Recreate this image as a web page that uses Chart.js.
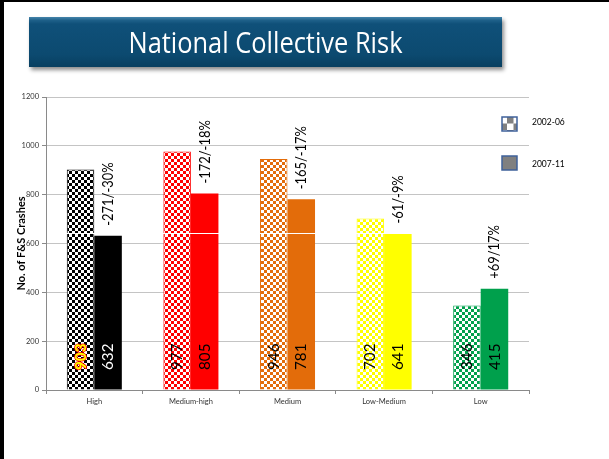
<!DOCTYPE html>
<html>
<head>
<meta charset="utf-8">
<script src="https://cdn.jsdelivr.net/npm/chart.js@4.4.1/dist/chart.umd.min.js"></script>
<style>
  html, body { margin: 0; padding: 0; background: #fff; }
  #wrap { position: relative; width: 609px; height: 459px; overflow: hidden; }
  #chart { position: absolute; left: 0; top: 0; }
  #frameTop { position: absolute; left: 0; top: 0; width: 609px; height: 2px; background: #000; }
  #frameLeft { position: absolute; left: 0; top: 0; width: 4px; height: 459px; background: #000; }
  #banner {
    position: absolute; left: 29px; top: 17px; width: 473px; height: 50px;
    background: linear-gradient(#4484ab 0%, #1d5f88 7%, #0f5079 14%, #0c4a70 75%, #083f60 100%);
    box-shadow: 2px 3px 4px rgba(0, 0, 0, 0.45);
  }
  #title {
    position: absolute; left: 0; top: 7px; width: 473px; text-align: center;
    font-family: "Open Sans", sans-serif; font-size: 30px; line-height: 36px; color: #fff;
    white-space: nowrap;
  }
</style>
</head>
<body>
<div id="wrap">
  <canvas id="chart" width="609" height="459"></canvas>
  <div id="banner"><div id="title">National Collective Risk</div></div>
  <div id="frameTop"></div>
  <div id="frameLeft"></div>
</div>
<script>
// data
const categories = ["High", "Medium-high", "Medium", "Low-Medium", "Low"];
const seriesNames = ["2002-06", "2007-11"];
const crashes0206 = [903, 977, 946, 702, 346];
const crashes0711 = [632, 805, 781, 641, 415];
const changeLabels = ["-271/-30%", "-172/-18%", "-165/-17%", "-61/-9%", "+69/17%"];
const yMax = 1200;
const yStep = 200;
const seamValue = 643; // stray white line across the pasted picture

const riskColors = ["#000000", "#ff0000", "#e36c0a", "#ffff00", "#00a04c"];

function checker(color, size, bg) {
  const c = document.createElement("canvas");
  c.width = c.height = size * 2;
  const g = c.getContext("2d");
  g.fillStyle = bg || "#ffffff";
  g.fillRect(0, 0, size * 2, size * 2);
  g.fillStyle = color;
  g.fillRect(0, 0, size, size);
  g.fillRect(size, size, size, size);
  return g.createPattern(c, "repeat");
}

const patternFills = riskColors.map((c) => checker(c, 3));

const FONT = "Lato, 'Open Sans', sans-serif";

const barLabels = {
  id: "barLabels",
  afterDatasetsDraw(chart) {
    const ctx = chart.ctx;
    const y = chart.scales.y;
    const area = chart.chartArea;
    const base = y.getPixelForValue(0);

    // the white seam
    ctx.save();
    ctx.strokeStyle = "#ffffff";
    ctx.lineWidth = 1;
    const sy = Math.round(y.getPixelForValue(seamValue)) + 0.5;
    ctx.beginPath();
    ctx.moveTo(area.left + 1, sy);
    ctx.lineTo(area.right, sy);
    ctx.stroke();
    ctx.restore();

    chart.data.datasets.forEach((ds, di) => {
      chart.getDatasetMeta(di).data.forEach((el, i) => {
        ctx.save();
        ctx.translate(el.x, base - 20);
        ctx.rotate(-Math.PI / 2);
        ctx.scale(0.95, 1);
        ctx.textAlign = "left";
        ctx.textBaseline = "middle";
        const txt = String(ds.data[i]);
        if (di === 0 && i === 0) {
          ctx.font = "bold 16px " + FONT;
          ctx.lineJoin = "round";
          ctx.lineWidth = 1.6;
          ctx.strokeStyle = "#ff0000";
          ctx.strokeText(txt, 0, 0);
          ctx.fillStyle = "#ffff00";
          ctx.fillText(txt, 0, 0);
        } else {
          ctx.font = "16px " + FONT;
          ctx.fillStyle = di === 1 && i === 0 ? "#ffffff" : "#000000";
          ctx.fillText(txt, 0, 0);
        }
        ctx.restore();
      });
    });

    // change annotations above the 2007-11 bars
    chart.getDatasetMeta(1).data.forEach((el, i) => {
      ctx.save();
      ctx.translate(el.x, el.y - 10);
      ctx.rotate(-Math.PI / 2);
      ctx.scale(0.86, 1);
      ctx.font = "15px " + FONT;
      ctx.textAlign = "left";
      ctx.textBaseline = "middle";
      ctx.fillStyle = "#000000";
      ctx.fillText(changeLabels[i], 0, 0);
      ctx.restore();
    });
  },
};

const sideLegend = {
  id: "sideLegend",
  afterDraw(chart) {
    const ctx = chart.ctx;
    const area = chart.chartArea;
    const boxFills = [checker("#808080", 6.5), "#808080"];
    const rows = [area.top + 20, area.top + 59];
    seriesNames.forEach((name, i) => {
      const bx = area.right - 27;
      const by = rows[i];
      ctx.save();
      ctx.fillStyle = boxFills[i];
      ctx.fillRect(bx, by, 15, 14);
      ctx.strokeStyle = "#3f619a";
      ctx.lineWidth = 1.5;
      ctx.strokeRect(bx, by, 15, 14);
      ctx.font = "8.5px " + FONT;
      ctx.fillStyle = "#000000";
      ctx.textAlign = "left";
      ctx.textBaseline = "middle";
      ctx.fillText(name, bx + 30, by + 5 + i * 3);
      ctx.restore();
    });
  },
};

new Chart(document.getElementById("chart"), {
  type: "bar",
  data: {
    labels: categories,
    datasets: [
      {
        label: seriesNames[0],
        data: crashes0206,
        backgroundColor: patternFills,
        borderColor: riskColors,
        borderWidth: 1,
        categoryPercentage: 0.57,
        barPercentage: 1.0,
      },
      {
        label: seriesNames[1],
        data: crashes0711,
        backgroundColor: riskColors,
        borderWidth: 0,
        categoryPercentage: 0.57,
        barPercentage: 1.0,
      },
    ],
  },
  options: {
    responsive: false,
    animation: false,
    devicePixelRatio: 1,
    layout: { padding: { top: 97, right: 80, bottom: 0, left: 0 } },
    plugins: { legend: { display: false }, tooltip: { enabled: false } },
    scales: {
      x: {
        afterFit: (s) => { s.height = 69; },
        grid: { drawOnChartArea: false, tickLength: 4, color: "#8a8a8a" },
        border: { color: "#8a8a8a" },
        ticks: { font: { family: FONT, size: 7.5 }, color: "#333333", padding: 3, maxRotation: 0 },
      },
      y: {
        min: 0,
        max: yMax,
        afterFit: (s) => { s.width = 46; },
        grid: { color: "#c4c4c4", tickLength: 4, tickColor: "#8a8a8a" },
        border: { color: "#8a8a8a" },
        ticks: {
          stepSize: yStep,
          font: { family: FONT, size: 7.5 },
          color: "#333333",
          padding: 3,
          callback: (v) => String(v),
        },
        title: {
          display: true,
          text: "No. of F&S Crashes",
          font: { family: FONT, size: 11, weight: "bold" },
          color: "#000000",
          padding: { top: 15, bottom: 0 },
        },
      },
    },
  },
  plugins: [barLabels, sideLegend],
});

// squeeze the banner title to the narrow face used on the slide
const t = document.getElementById("title");
const r = document.createRange();
r.selectNodeContents(t);
const w = r.getBoundingClientRect().width;
t.style.transform = "scaleX(" + (274 / w) + ")";
</script>
</body>
</html>
